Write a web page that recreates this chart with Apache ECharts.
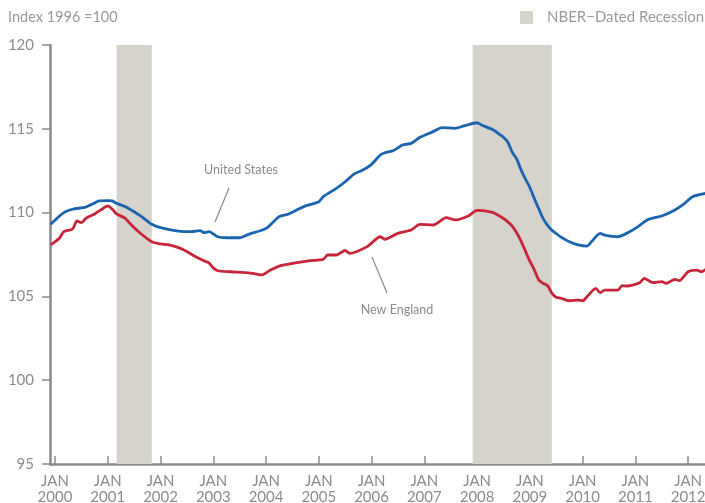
<!DOCTYPE html>
<html>
<head>
<meta charset="utf-8">
<script src="https://cdn.jsdelivr.net/npm/echarts@6/dist/echarts.min.js"></script>
<style>
html,body{margin:0;padding:0;background:#fff;}
#chart{width:705px;height:503px;}
</style>
</head>
<body>
<div id="chart"></div>
<script>
// ---- data ----
const usDates = ['1999-12','2000-03','2000-05','2000-08','2000-10','2000-11','2001-01','2001-02','2001-03','2001-05','2001-07','2001-09','2001-11','2002-01','2002-05','2002-08','2002-10','2002-11','2002-12','2003-02','2003-04','2003-07','2003-09','2004-01','2004-04','2004-06','2004-08','2004-10','2005-01','2005-02','2005-05','2005-07','2005-09','2005-11','2006-01','2006-03','2006-04','2006-06','2006-08','2006-10','2006-12','2007-03','2007-05','2007-08','2007-10','2008-01','2008-02','2008-05','2008-06','2008-07','2008-08','2008-09','2008-10','2008-11','2008-12','2009-01','2009-02','2009-03','2009-04','2009-05','2009-06','2009-07','2009-08','2009-10','2009-12','2010-02','2010-03','2010-05','2010-06','2010-09','2010-11','2011-01','2011-04','2011-07','2011-10','2011-12','2012-02','2012-05'];
const usValues = [109.3,110.0,110.2,110.33,110.57,110.7,110.72,110.7,110.55,110.35,110.05,109.7,109.3,109.1,108.9,108.86,108.92,108.8,108.86,108.56,108.5,108.5,108.7,109.06,109.76,109.9,110.16,110.4,110.65,110.95,111.45,111.84,112.3,112.54,112.88,113.44,113.57,113.7,114.03,114.13,114.49,114.83,115.07,115.03,115.17,115.36,115.23,114.89,114.68,114.5,114.2,113.6,113.2,112.55,112.0,111.5,110.85,110.25,109.65,109.25,108.95,108.75,108.55,108.26,108.07,108.0,108.26,108.76,108.66,108.56,108.76,109.06,109.6,109.8,110.16,110.5,110.95,111.15];
const neDates = ['1999-12','2000-02','2000-03','2000-05','2000-06','2000-07','2000-08','2000-10','2000-12','2001-01','2001-02','2001-03','2001-05','2001-06','2001-08','2001-11','2002-01','2002-03','2002-06','2002-09','2002-11','2002-12','2003-01','2003-02','2003-05','2003-09','2003-12','2004-02','2004-04','2004-08','2004-11','2005-02','2005-03','2005-05','2005-07','2005-08','2005-12','2006-03','2006-04','2006-07','2006-10','2006-12','2007-03','2007-06','2007-08','2007-11','2008-01','2008-04','2008-05','2008-07','2008-08','2008-09','2008-10','2008-11','2008-12','2009-01','2009-02','2009-03','2009-04','2009-05','2009-06','2009-07','2009-08','2009-10','2009-12','2010-01','2010-02','2010-04','2010-05','2010-06','2010-09','2010-10','2010-11','2011-02','2011-03','2011-05','2011-07','2011-08','2011-10','2011-11','2012-01','2012-03','2012-04','2012-05'];
const neValues = [108.07,108.47,108.86,109.02,109.5,109.4,109.66,109.92,110.26,110.4,110.21,109.92,109.66,109.36,108.86,108.26,108.13,108.07,107.81,107.37,107.11,107.0,106.7,106.53,106.47,106.41,106.28,106.57,106.81,107.01,107.13,107.21,107.47,107.47,107.74,107.57,107.97,108.56,108.41,108.76,108.96,109.3,109.26,109.7,109.56,109.8,110.13,110.05,109.96,109.65,109.45,109.2,108.8,108.3,107.7,107.1,106.6,106.0,105.78,105.65,105.2,104.95,104.9,104.74,104.78,104.74,104.98,105.48,105.22,105.38,105.38,105.64,105.62,105.82,106.08,105.82,105.88,105.78,106.02,105.94,106.47,106.57,106.47,106.62];
const recessions = [['2001-03','2001-11'],['2007-12','2009-06']];
const tickYears = [2000,2001,2002,2003,2004,2005,2006,2007,2008,2009,2010,2011,2012];
const yTicks = [95,100,105,110,115,120];

function toYear(s){const p=s.split('-').map(Number);return p[0]+(p[1]-1)/12;}
const usData = usDates.map((d,i)=>[toYear(d),usValues[i]]);
const neData = neDates.map((d,i)=>[toYear(d),neValues[i]]);

const grey = '#8c8c8c';
const font = 'Lato, "Open Sans", sans-serif';
const chart = echarts.init(document.getElementById('chart'), null, {renderer:'canvas'});
chart.setOption({
  animation:false,
  textStyle:{fontFamily:font},
  grid:{left:50,right:0,top:45,bottom:39,containLabel:false,outerBoundsMode:'none'},
  legend:{
    left:520,top:10,padding:0,itemWidth:13,itemHeight:13,
    data:[{name:'NBER−Dated Recession',icon:'rect'}],
    textStyle:{color:'#9a9a9a',fontSize:15,fontFamily:font,padding:[0,0,0,9]}
  },
  xAxis:{
    type:'value',min:1999.905,max:2012.32,
    splitLine:{show:false},
    axisLine:{show:true,onZero:false,lineStyle:{color:'#8a8a8a',width:2.5}},
    axisTick:{show:true,inside:true,length:8,customValues:tickYears,lineStyle:{color:'#8a8a8a',width:1.5}},
    axisLabel:{customValues:tickYears,formatter:v=>'JAN\n'+v,color:grey,fontSize:15,lineHeight:16,margin:9,fontFamily:font}
  },
  yAxis:{
    type:'value',min:yTicks[0],max:yTicks[yTicks.length-1],interval:5,
    splitLine:{show:false},
    axisLine:{show:true,lineStyle:{color:'#8a8a8a',width:2.5}},
    axisTick:{show:true,length:8,lineStyle:{color:'#8a8a8a',width:1.5}},
    axisLabel:{color:grey,fontSize:15,margin:16,fontFamily:font}
  },
  graphic:[
    {type:'text',left:8,top:10,style:{text:'Index 1996 =100',fill:'#9a9a9a',font:'14.5px '+font}},
    {type:'text',x:241,y:170,style:{text:'United States',fill:grey,font:'12.5px '+font,align:'center',verticalAlign:'middle'}},
    {type:'line',shape:{x1:229,y1:188,x2:215,y2:222},style:{stroke:'#8a8a8a',lineWidth:1.2}},
    {type:'text',x:397,y:310,style:{text:'New England',fill:grey,font:'12.5px '+font,align:'center',verticalAlign:'middle'}},
    {type:'line',shape:{x1:372,y1:257,x2:387,y2:293},style:{stroke:'#8a8a8a',lineWidth:1.2}}
  ],
  series:[
    {
      name:'NBER−Dated Recession',type:'bar',data:[],
      itemStyle:{color:'#d6d3cc'},
      markArea:{silent:true,itemStyle:{color:'#d6d3cc'},
        data:recessions.map(r=>[{xAxis:toYear(r[0])},{xAxis:toYear(r[1])}])}
    },
    {name:'United States',type:'line',data:usData,showSymbol:false,smooth:0.25,
      lineStyle:{color:'#1a64b0',width:2.8},itemStyle:{color:'#1a64b0'},z:3},
    {name:'New England',type:'line',data:neData,showSymbol:false,smooth:0.25,
      lineStyle:{color:'#c8243a',width:2.8},itemStyle:{color:'#c8243a'},z:3}
  ]
});
</script>
</body>
</html>
